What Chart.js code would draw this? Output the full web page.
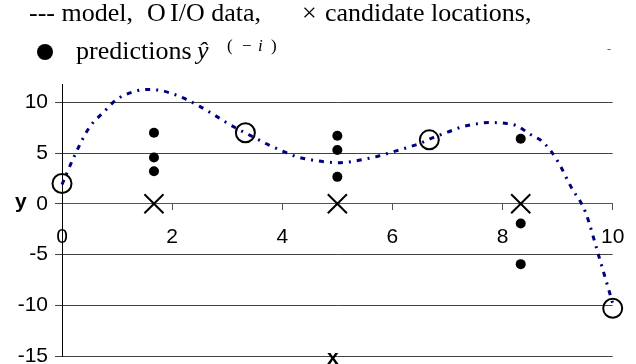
<!DOCTYPE html>
<html lang="en">
<head>
  <meta charset="UTF-8" />
  <title>Model, I/O data and predictions</title>
  <script src="https://cdn.jsdelivr.net/npm/chart.js"></script>
  <style>
    body { margin: 0; background: #fff; }
    #wrap { position: relative; width: 636px; height: 364px; overflow: hidden; }
    #chart { position: absolute; left: 0; top: 0; }
    .t { position: absolute; white-space: pre; color: #000; }
    .serif { font-family: "Liberation Serif", "Times New Roman", serif; font-size: 26px; line-height: 26px; }
    .sup { font-family: "Liberation Serif", "Times New Roman", serif; font-size: 17px; line-height: 17px; }
    .sans { font-family: "Liberation Sans", Arial, sans-serif; font-size: 21px; line-height: 21px; font-weight: bold; }
    .dot { position: absolute; left: 37px; top: 44px; width: 16px; height: 16px; border-radius: 50%; background: #000; }
  </style>
</head>
<body>
  <div id="wrap">
    <canvas id="chart" width="636" height="364"></canvas>
    <span class="t serif" style="left:29px; top:0px;">--- model,</span>
    <span class="t serif" style="left:147px; top:0px;">O</span>
    <span class="t serif" style="left:170px; top:0px;">I/O data,</span>
    <span class="t serif" style="left:302px; top:0px;">×</span>
    <span class="t serif" style="left:325px; top:0px;">candidate locations,</span>
    <div class="dot"></div>
    <span class="t serif" style="left:76px; top:38px;">predictions</span>
    <span class="t serif" style="left:197px; top:38px; font-style:italic;">ŷ</span>
    <span class="t sup" style="left:227px; top:37px;">(</span>
    <span class="t sup" style="left:242px; top:37px;">−</span>
    <span class="t sup" style="left:258px; top:37px; font-style:italic;">i</span>
    <span class="t sup" style="left:271px; top:37px;">)</span>
    <span class="t serif" style="left:607px; top:36px; font-size:12px; color:#555;">-</span>
    <span class="t sans" style="left:15px; top:190px;">y</span>
    <span class="t sans" style="left:327px; top:346px;">x</span>
  </div>

  <script>
    // model curve
    const modelX = [0, 0.25, 0.5, 0.75, 1, 1.25, 1.5, 1.75, 2, 2.25, 2.5, 2.75, 3, 3.25, 3.5, 3.75,
                    4, 4.25, 4.5, 4.75, 5, 5.25, 5.5, 5.75, 6, 6.25, 6.5, 6.75, 7, 7.25, 7.5, 7.75,
                    8, 8.25, 8.5, 8.75, 9, 9.25, 9.5, 9.75, 10];
    const modelY = [1.9, 5.0, 7.55, 9.0, 10.3, 10.95, 11.25, 11.2, 10.85, 10.3, 9.6, 8.8, 7.95, 7.2, 6.5, 5.8,
                    5.2, 4.65, 4.35, 4.15, 4.05, 4.15, 4.4, 4.7, 5.1, 5.5, 5.95, 6.55, 7.05, 7.55, 7.85, 8.0,
                    7.95, 7.7, 6.85, 6.0, 4.2, 1.6, -0.75, -5.2, -9.8];

    // I/O data
    const dataX = [0, 3.33, 6.67, 10];
    const dataY = [2, 7, 6.3, -10.3];

    // candidate locations
    const candX = [1.67, 5, 8.33];
    const candY = [0, 0, 0];

    // leave-one-out predictions
    const predX = [1.67, 1.67, 1.67, 5, 5, 5, 8.33, 8.33, 8.33];
    const predY = [7, 4.55, 3.2, 6.7, 5.3, 2.65, 6.4, -1.95, -5.95];

    const xTicks = [0, 2, 4, 6, 8, 10];
    const yTicks = [-15, -10, -5, 0, 5, 10];

    const pts = (xs, ys) => xs.map((x, i) => ({ x: x, y: ys[i] }));
    const tickFont = { family: "'Liberation Sans', Arial, sans-serif", size: 21 };

    function noPad(scale) {
      scale.paddingLeft = 0;
      scale.paddingRight = 0;
      scale.paddingTop = 0;
      scale.paddingBottom = 0;
    }

    new Chart(document.getElementById("chart"), {
      type: "scatter",
      data: {
        datasets: [
          {
            label: "predictions",
            data: pts(predX, predY),
            pointStyle: "circle",
            pointRadius: 5,
            backgroundColor: "#000",
            borderColor: "#000",
            borderWidth: 0,
            clip: false
          },
          {
            label: "candidate locations",
            data: pts(candX, candY),
            pointStyle: "crossRot",
            pointRadius: 13.5,
            borderColor: "#000",
            borderWidth: 2,
            clip: false
          },
          {
            label: "I/O data",
            data: pts(dataX, dataY),
            pointStyle: "circle",
            pointRadius: 9.5,
            backgroundColor: "rgba(0,0,0,0)",
            borderColor: "#000",
            borderWidth: 2,
            clip: false
          },
          {
            label: "model",
            data: pts(modelX, modelY),
            showLine: true,
            pointRadius: 0,
            borderColor: "#000080",
            borderWidth: 3,
            borderDash: [5, 6, 2, 6],
            cubicInterpolationMode: "monotone",
            clip: false
          }
        ]
      },
      options: {
        responsive: false,
        animation: false,
        devicePixelRatio: 1,
        layout: { autoPadding: false, padding: { top: 84, right: 23.3, bottom: 8, left: 0 } },
        plugins: { legend: { display: false }, tooltip: { enabled: false } },
        scales: {
          x: {
            type: "linear",
            position: { y: 0 },
            min: 0,
            max: 10,
            afterBuildTicks: (s) => { s.ticks = xTicks.map(v => ({ value: v })); },
            afterFit: noPad,
            grid: { drawOnChartArea: false, drawTicks: true, tickLength: 6, color: "#555" },
            border: { color: "#555", width: 1 },
            ticks: { font: tickFont, color: "#000", padding: 15, maxRotation: 0 }
          },
          y: {
            type: "linear",
            position: "left",
            min: -15,
            max: 11.8,
            afterBuildTicks: (s) => { s.ticks = yTicks.map(v => ({ value: v })); },
            afterFit: (s) => { s.width = 62; noPad(s); },
            grid: { color: "#444", tickLength: 7 },
            border: { color: "#000", width: 1 },
            ticks: { font: tickFont, color: "#000", padding: 7 }
          }
        }
      }
    });
  </script>
</body>
</html>
